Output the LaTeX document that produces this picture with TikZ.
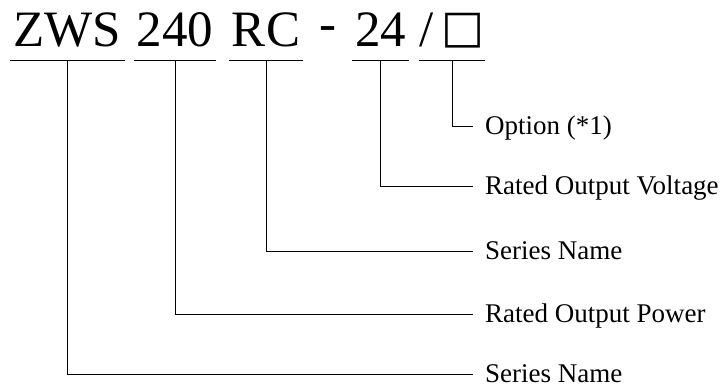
\documentclass[tikz,border=0pt]{standalone}
\usepackage{fontspec}
\setmainfont{Liberation Serif}
\newfontfamily\symfont{DejaVu Sans}
\usetikzlibrary{positioning}

\begin{document}
\begin{tikzpicture}[x=1pt,y=-1pt,
  part/.style={anchor=base,inner ysep=0pt,inner xsep=3pt,
    font=\fontsize{51}{51}\selectfont,text height=34pt,text depth=13.3pt},
  dashmark/.style={anchor=base,inner sep=0pt,font=\fontsize{51}{51}\selectfont},
  lbl/.style={anchor=west,inner xsep=12pt,inner ysep=0pt,
    font=\fontsize{27}{27}\selectfont,text height=17.6pt,text depth=0pt},
  uline/.style={line width=1.3pt},
  lead/.style={line width=1pt}
]
  \useasboundingbox (0,0) rectangle (721,388);
  % model code
  \node[part] (zws) at (67.5,46.7) {ZWS};
  \node[part] (pow) at (175,46.7) {240};
  \node[part] (ser) at (266,46.7) {RC};
  \node[dashmark] (hy) at (328,40.7) {-};
  \node[part] (vol) at (380.5,46.7) {24};
  \node[part,inner xsep=0pt] (opt) at (452,46.7) {/\hspace{8pt}\raisebox{4.5pt}{\symfont\fontsize{45.5}{45.5}\selectfont □}};
  % underlines
  \foreach \p in {zws,pow,ser,vol,opt}
    \draw[uline] (\p.south west) -- (\p.south east);
  % labels
  \node[lbl] (l1) at (473,126) {Option (*1)};
  \node[lbl] (l2) at (473,186) {Rated Output Voltage};
  \node[lbl] (l3) at (473,251) {Series Name};
  \node[lbl] (l4) at (473,314) {Rated Output Power};
  \node[lbl] (l5) at (473,374) {Series Name};
  % leaders
  \draw[lead] (opt.south) |- (l1.west);
  \draw[lead] (vol.south) |- (l2.west);
  \draw[lead] (ser.south) |- (l3.west);
  \draw[lead] (pow.south) |- (l4.west);
  \draw[lead] (zws.south) |- (l5.west);
\end{tikzpicture}
\end{document}
